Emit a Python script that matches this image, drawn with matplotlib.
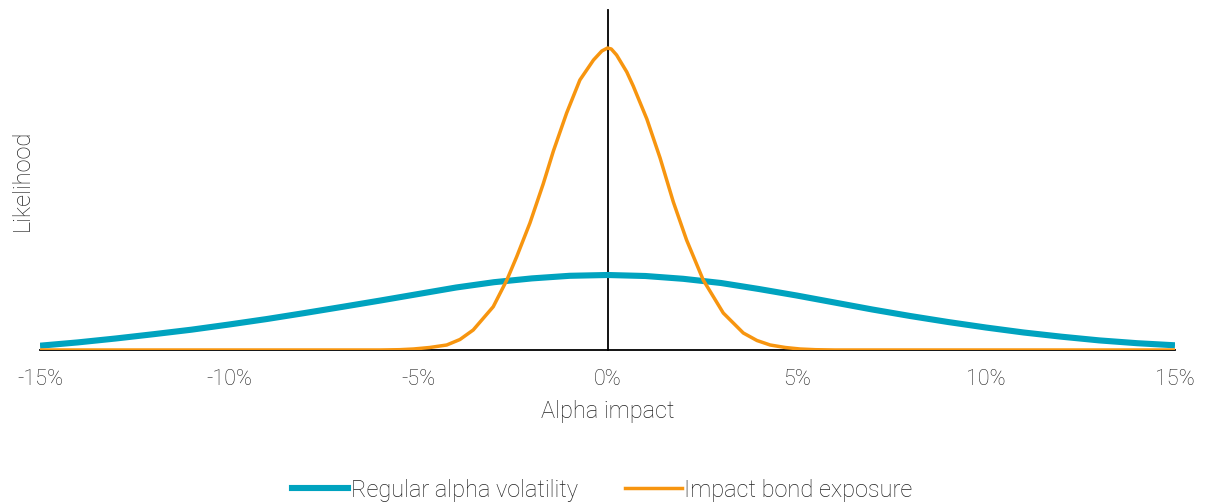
import matplotlib
matplotlib.use("Agg")
import matplotlib.pyplot as plt
from matplotlib.lines import Line2D

# Data (x in %, likelihood in arbitrary units)
x_regular = [-15, -14, -13, -12, -11, -10, -9, -8, -7, -6, -5, -4, -3, -2, -1, 0,
             1, 2, 3, 4, 5, 6, 7, 8, 9, 10, 11, 12, 13, 14, 15]
y_regular = [4.3, 7.6, 11.5, 15.8, 20.3, 25.5, 31, 37, 43.2, 49.5, 56, 62.5, 67.8, 71.6, 74.2, 75,
             74, 71.2, 67, 61, 54.5, 47.5, 40.5, 34, 28, 22.5, 17.5, 13.3, 9.6, 6.8, 4.7]

x_impact = [-15, -10, -6, -5.5, -5.13, -4.7, -4.25, -3.9, -3.55, -3.02, -2.66, -2.40, -2.05,
            -1.70, -1.43, -1.08, -0.73, -0.37, -0.15, 0, 0.1, 0.24, 0.51, 0.68, 1.04, 1.39,
            1.74, 2.09, 2.53, 3.06, 3.59, 3.95, 4.30, 4.7, 5.09, 5.5, 6, 10, 15]
y_impact = [0, 0, 0, 0.3, 1, 2.5, 5, 10.5, 20, 43.3, 70, 93.3, 127,
            166, 199, 237, 270, 290, 299, 302, 301, 295, 278, 264, 231, 192,
            148, 110, 70, 37, 17, 9.5, 5, 2.5, 1, 0.3, 0, 0, 0]

xticks = [-15, -10, -5, 0, 5, 10, 15]
xticklabels = ["-15%", "-10%", "-5%", "0%", "5%", "10%", "15%"]

series_names = ["Regular alpha volatility", "Impact bond exposure"]
teal = "#00A3BF"
orange = "#F7950F"
text_color = "#222222"

plt.rcParams['font.family'] = ['Roboto', 'DejaVu Sans']
plt.rcParams['font.weight'] = 'light'
FS_TICK = 15.5
FS = 17

fig = plt.figure(figsize=(12.10, 5.04), dpi=100)
ax = fig.add_axes([40/1210, 1 - 350/504, (1175-40)/1210, 340/504])

ax.plot(x_regular, y_regular, color=teal, lw=4.4, solid_capstyle='butt',
        solid_joinstyle='round', zorder=3)
ax.plot(x_impact, y_impact, color=orange, lw=2.5, solid_joinstyle='round', zorder=4)

ax.set_xlim(-15, 15)
ax.set_ylim(0, 340)

for s in ['top', 'right']:
    ax.spines[s].set_visible(False)
ax.spines['left'].set_position(('data', 0))
ax.spines['left'].set_linewidth(1.3)
ax.spines['bottom'].set_linewidth(1.3)
ax.spines['left'].set_zorder(2)
ax.set_yticks([])
ax.set_xticks(xticks)
ax.set_xticklabels(xticklabels, fontsize=FS_TICK, fontweight='light', color=text_color)
ax.tick_params(axis='x', length=0, pad=14)

ax.set_xlabel("Alpha impact", fontsize=FS, fontweight='light', color=text_color, labelpad=7)
fig.text(22/1210, 1 - 180/504, "Likelihood", rotation=90, fontsize=FS,
         fontweight='light', color=text_color, ha='center', va='center')

handles = [Line2D([0], [0], color=teal, lw=4.4),
           Line2D([0], [0], color=orange, lw=2.5)]
leg = fig.legend(handles, series_names, loc='center', bbox_to_anchor=(602/1210, 1 - 490/504),
                 ncol=2, frameon=False, handlelength=2.4, handletextpad=0.1,
                 columnspacing=2.0, prop={'weight': 'light', 'size': FS})
for t in leg.get_texts():
    t.set_color(text_color)

fig.savefig("out.png", dpi=100)
